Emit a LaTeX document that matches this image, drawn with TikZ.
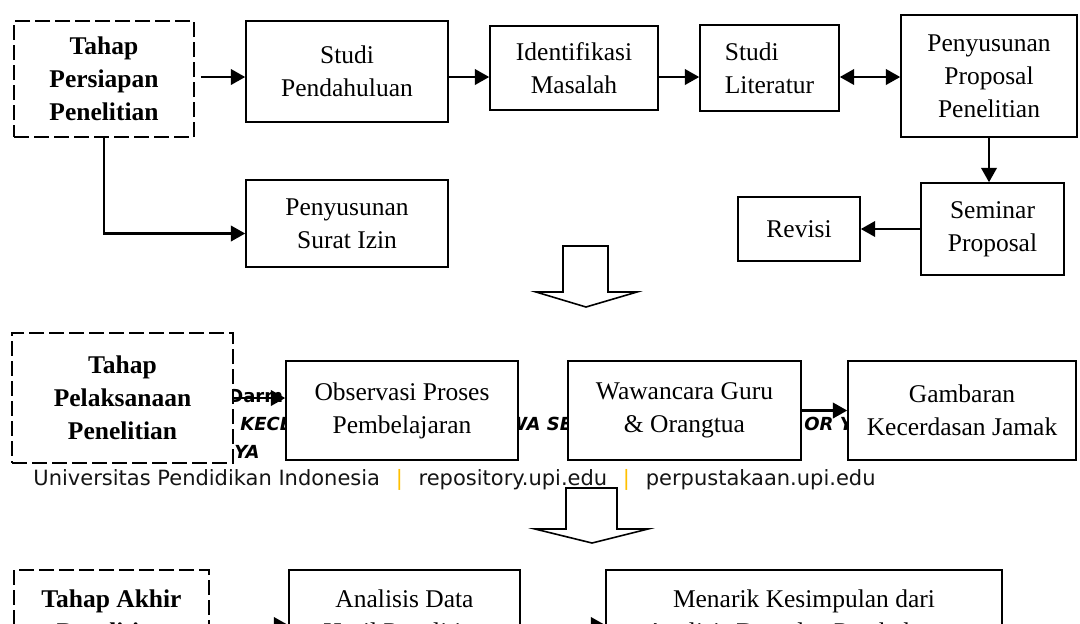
\documentclass[tikz,border=0pt]{standalone}
\usepackage{fontspec}
\setmainfont{Liberation Serif}
\newfontfamily\footfont{DejaVu Sans}
\usepackage{xcolor}
\usetikzlibrary{arrows.meta,positioning,calc}
\definecolor{sepgold}{HTML}{FFC000}

\begin{document}
\begin{tikzpicture}[x=0.5pt, y=-0.5pt, every node/.style={font=\fontsize{12.75}{16.5}\selectfont}, stepbox/.style={draw, line width=0.8pt, fill=white, align=center, inner sep=0pt}, phasebox/.style={stepbox, dash pattern=on 7.5pt off 2.5pt, font=\fontsize{12.75}{16.5}\selectfont\bfseries}, cutbox/.style={inner ysep=9.5pt, text height=25.5pt, text depth=10.5pt, minimum height=55pt}, arr/.style={-{Triangle[length=7.2pt,width=7.8pt]}, line width=1.1pt}, arrboth/.style={{Triangle[length=7.2pt,width=7.8pt]}-{Triangle[length=7.2pt,width=7.8pt]}, line width=1.1pt}, bigarrow/.style={draw, line width=0.8pt, fill=white, line join=miter}, pagetext/.style={font=\footfont\fontsize{9}{11}\selectfont\bfseries, inner sep=0pt, anchor=base west}]
\useasboundingbox (0,0) rectangle (1080,623);
\clip (0,0) rectangle (1080,623);
\fill[white] (0,0) rectangle (1080,623);
% page footer that shows through
\node[pagetext] (pgdarm) at (228,402) {Darm};
\node[pagetext, font=\footfont\fontsize{9}{11}\selectfont\bfseries\itshape] (pgkec) at (240,430) {KECE};
\node[pagetext, font=\footfont\fontsize{9}{11}\selectfont\bfseries\itshape] (pgswa) at (507,430) {WA SE};
\node[pagetext, font=\footfont\fontsize{9}{11}\selectfont\bfseries\itshape] (pgtor) at (804,430) {OR YA};
\node[pagetext, font=\footfont\fontsize{9}{11}\selectfont\bfseries\itshape] (pgya) at (234,458) {YA};
\node[font=\footfont\fontsize{10.5}{12}\selectfont, text=black!92, anchor=base west, inner sep=0pt] (footer) at (33,485) {Universitas Pendidikan Indonesia\hspace{0.75em}\textcolor{sepgold}{|}\hspace{0.75em}repository.upi.edu\hspace{0.75em}\textcolor{sepgold}{|}\hspace{0.75em}perpustakaan.upi.edu};
% tahap persiapan
\node[phasebox, minimum width=90pt, minimum height=58pt] (persiapan) at (104,79) {Tahap\\Persiapan\\Penelitian};
\node[stepbox, minimum width=101pt, minimum height=50.5pt] (pendahuluan) at (347,71.5) {Studi\\Pendahuluan};
\node[stepbox, minimum width=84pt, minimum height=42pt] (identifikasi) at (574,68) {Identifikasi\\Masalah};
\node[stepbox, align=left, minimum width=69.5pt, minimum height=43pt] (literatur) at (769.5,68) {Studi\\Literatur};
\node[stepbox, minimum width=88pt, minimum height=61pt] (proposal) at (989,76) {Penyusunan\\Proposal\\Penelitian};
\node[stepbox, minimum width=101pt, minimum height=43.5pt] (surat) at (347,223.5) {Penyusunan\\Surat Izin};
\node[stepbox, minimum width=71.5pt, minimum height=46pt] (seminar) at (992.5,229) {Seminar\\Proposal};
\node[stepbox, minimum width=61pt, minimum height=32pt] (revisi) at (799,229) {Revisi};
\coordinate (rowone) at (0,77);
\draw[arr] ([xshift=3pt]persiapan.east |- rowone) -- (pendahuluan.west |- rowone);
\draw[arr] (pendahuluan.east |- rowone) -- (identifikasi.west |- rowone);
\draw[arr] (identifikasi.east |- rowone) -- (literatur.west |- rowone);
\draw[arrboth] (literatur.east |- rowone) -- (proposal.west |- rowone);
\draw[arr] (persiapan) |- ([yshift=-5pt]surat.west);
\draw[arr] (proposal) -- (proposal |- seminar.north);
\draw[arr] (seminar) -- (revisi);
\draw[bigarrow] (563,246) -- (608,246) -- (608,292) -- (637,292) -- (586,307) -- (536,292) -- (563,292) -- cycle;
% tahap pelaksanaan
\node[phasebox, minimum width=110.5pt, minimum height=65pt] (pelaksanaan) at (122.5,398) {Tahap\\Pelaksanaan\\Penelitian};
\node[stepbox, minimum width=116pt, minimum height=49.5pt] (observasi) at (402,410.5) {Observasi Proses\\Pembelajaran};
\node[stepbox, minimum width=116.5pt, minimum height=49.5pt] (wawancara) at (684.5,410.5) {Wawancara Guru\\\& Orangtua};
\node[stepbox, minimum width=114pt, minimum height=49.5pt] (gambaran) at (962,410.5) {Gambaran\\Kecerdasan Jamak};
\draw[arr] (pelaksanaan) -- (pelaksanaan -| observasi.west);
\draw[arr] (wawancara) -- (gambaran);
\draw[bigarrow] (566,488) -- (617,488) -- (617,529) -- (648,529) -- (592,543) -- (535,529) -- (566,529) -- cycle;
% tahap akhir
\node[phasebox, cutbox, minimum width=97.5pt] (akhir) at (111.5,625) {Tahap Akhir\\Penelitian};
\node[stepbox, cutbox, minimum width=115.5pt] (analisis) at (404.5,625) {Analisis Data\\Hasil Penelitian};
\node[stepbox, cutbox, minimum width=198pt] (menarik) at (804,625) {Menarik Kesimpulan dari\\Analisis Data dan Pembahasan};
\draw[arr] (akhir) -- (analisis);
\draw[arr] (analisis) -- (menarik);
\end{tikzpicture}
\end{document}
